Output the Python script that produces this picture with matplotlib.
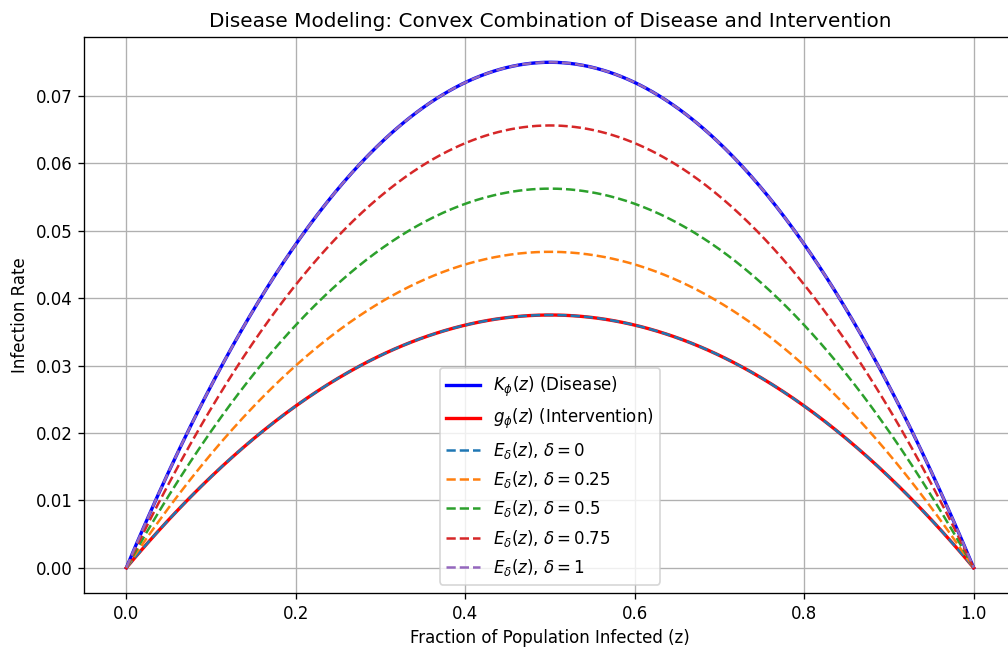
import numpy as np
import matplotlib
matplotlib.use("Agg")
import matplotlib.pyplot as plt

# peak heights (at z = 0.5)
disease_peak = 0.075
intervention_peak = 0.0375
deltas = [0, 0.25, 0.5, 0.75, 1]
delta_labels = ["0", "0.25", "0.5", "0.75", "1"]
delta_colors = ["C0", "C1", "C2", "C3", "C4"]

z = np.linspace(0, 1, 400)
K = 4 * disease_peak * z * (1 - z)
g = 4 * intervention_peak * z * (1 - z)

# 8.4 x 5.4 in at 120 dpi -> 1008 x 648 px
fig = plt.figure(figsize=(8.4, 5.4), dpi=120)
W, H = 1008, 648
ax = fig.add_axes([84 / W, 1 - 593 / H, (1016 - 84) / W, (593 - 37) / H])

ax.plot(z, K, color="blue", linewidth=2, label=r"$K_\phi(z)$ (Disease)")
ax.plot(z, g, color="red", linewidth=2, label=r"$g_\phi(z)$ (Intervention)")
for d, lab, c in zip(deltas, delta_labels, delta_colors):
    E = d * K + (1 - d) * g
    ax.plot(z, E, linestyle="--", color=c, linewidth=1.5,
            label=r"$E_\delta(z)$, $\delta = " + lab + "$")

ax.set_title("Disease Modeling: Convex Combination of Disease and Intervention", fontsize=12)
ax.set_xlabel("Fraction of Population Infected (z)")
ax.set_ylabel("Infection Rate")
ax.grid(True)
ax.legend(loc="lower center")

fig.savefig("out.png", dpi=120)
